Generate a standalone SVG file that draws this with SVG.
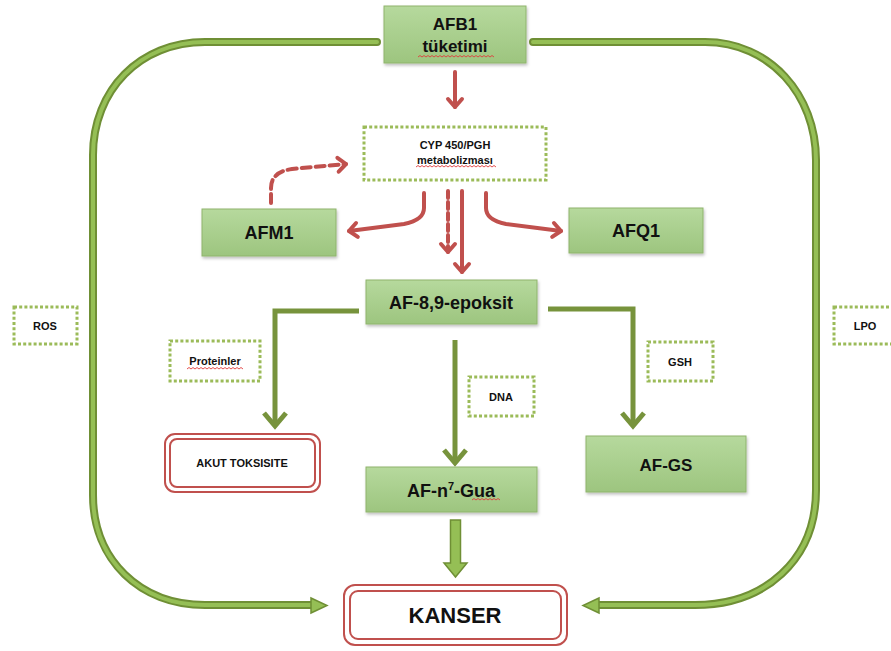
<svg xmlns="http://www.w3.org/2000/svg" width="891" height="651" viewBox="0 0 891 651">
<style>
.box{fill:url(#gg);stroke:#8fb46d;stroke-width:1;filter:url(#sh)}
.dot{fill:#fff;stroke:#9bbb59;stroke-width:3;stroke-dasharray:3 2.2}
.t{font-family:"Liberation Sans",Arial,sans-serif;font-weight:bold;fill:#111;text-anchor:middle}
.big{font-size:18px}
.sm{font-size:11px}
.red{fill:none;stroke:#c0504d;stroke-width:4;stroke-linecap:round;stroke-linejoin:round}
.gl{fill:none;stroke:#77933c;stroke-width:5;stroke-linejoin:miter}
.loopo{fill:none;stroke:#6f8f35;stroke-width:8;stroke-linecap:round}
.loopi{fill:none;stroke:#95bf55;stroke-width:4;stroke-linecap:round}
.blk{fill:#95bf55;stroke:#6f8f35;stroke-width:1.5;stroke-linejoin:miter}
.ro{fill:#fff;stroke:#c0504d;stroke-width:2}
.ri{fill:none;stroke:#c0504d;stroke-width:2}
.sq{fill:none;stroke:#e03c3c;stroke-width:0.9}
</style>
<defs>
<linearGradient id="gg" x1="0" y1="0" x2="0" y2="1">
<stop offset="0" stop-color="#b6d99d"/>
<stop offset="1" stop-color="#9dc57f"/>
</linearGradient>
<filter id="sh" x="-10%" y="-10%" width="125%" height="140%">
<feDropShadow dx="1" dy="2" stdDeviation="1.5" flood-color="#000" flood-opacity="0.25"/>
</filter>
<marker id="rh" markerUnits="userSpaceOnUse" markerWidth="24" markerHeight="24" refX="0" refY="0" viewBox="-12 -12 24 24" orient="auto" overflow="visible">
<path d="M-8,-7 L0,0 L-8,7" fill="none" stroke="#c0504d" stroke-width="4" stroke-linecap="round" stroke-linejoin="round" stroke-dasharray="none"/>
</marker>
<marker id="gh" markerUnits="userSpaceOnUse" markerWidth="30" markerHeight="30" refX="0" refY="0" viewBox="-15 -15 30 30" orient="auto" overflow="visible">
<path d="M-13,-11 L0,0 L-13,11" fill="none" stroke="#77933c" stroke-width="5" stroke-linejoin="miter"/>
</marker>
</defs>
<rect width="891" height="651" fill="#fff"/>

<g id="connectors">
<!-- big loops -->
<path class="loopo" d="M377,42 L205,42 C140,42 93,90 93,155 L93,495 C93,560 140,605 205,605 L312,605"/>
<path class="loopi" d="M377,42 L205,42 C140,42 93,90 93,155 L93,495 C93,560 140,605 205,605 L312,605"/>
<polygon class="blk" points="311,598 327,605.5 311,613"/>
<path class="loopo" d="M533,42 L705,42 C770,42 816,95 816,160 L816,490 C816,560 765,605 695,605 L598,605"/>
<path class="loopi" d="M533,42 L705,42 C770,42 816,95 816,160 L816,490 C816,560 765,605 695,605 L598,605"/>
<polygon class="blk" points="599,598 583,605.5 599,613"/>
<!-- red arrows -->
<path class="red" d="M455,72 L455,107" marker-end="url(#rh)"/>
<path class="red" d="M424,193 L424,208 Q424,220 404,224 L349,231" marker-end="url(#rh)"/>
<path class="red" d="M486,193 L486,208 Q486,220 506,224 L561,231" marker-end="url(#rh)"/>
<path class="red" d="M448,191 L448,252" stroke-dasharray="7 4" marker-end="url(#rh)"/>
<path class="red" d="M462,191 L462,272" marker-end="url(#rh)"/>
<path class="red" d="M271,203 L271,188 Q271,172 292,169 L346,164" stroke-dasharray="9 5" marker-end="url(#rh)"/>
<!-- green branch arrows -->
<path class="gl" d="M359,311 L275,311 L275,426" marker-end="url(#gh)"/>
<path class="gl" d="M548,309 L633,309 L633,426" marker-end="url(#gh)"/>
<path class="gl" d="M455,340 L455,463" marker-end="url(#gh)"/>
<polygon class="blk" points="450.5,520 460.5,520 460.5,563 467,563 455.5,577 444,563 450.5,563"/>
</g>

<g id="afb1">
<rect class="box" x="384" y="6" width="142" height="57"/>
<text class="t" x="455" y="30" font-size="17">AFB1</text>
<text class="t" x="455" y="52" font-size="17">tüketimi</text>
</g>
<g id="cyp">
<rect class="dot" x="364" y="127" width="182" height="53"/>
<text class="t sm" x="455" y="149">CYP 450/PGH</text>
<text class="t sm" x="455" y="164">metabolizması</text>
</g>
<g id="afm1">
<rect class="box" x="202" y="209" width="134" height="47"/>
<text class="t big" x="269" y="239">AFM1</text>
</g>
<g id="afq1">
<rect class="box" x="569" y="208" width="134" height="45"/>
<text class="t big" x="636" y="237">AFQ1</text>
</g>
<g id="epoksit">
<rect class="box" x="366" y="280" width="171" height="44"/>
<text class="t big" x="451" y="309">AF-8,9-epoksit</text>
</g>
<g id="ros">
<rect class="dot" x="14" y="307" width="63" height="37"/>
<text class="t sm" x="45" y="330">ROS</text>
</g>
<g id="lpo">
<rect class="dot" x="834" y="307" width="63" height="37"/>
<text class="t sm" x="865" y="330">LPO</text>
</g>
<g id="proteinler">
<rect class="dot" x="170" y="341" width="90" height="40"/>
<text class="t sm" x="215" y="365">Proteinler</text>
</g>
<g id="gsh">
<rect class="dot" x="648" y="342" width="65" height="39"/>
<text class="t sm" x="680" y="366">GSH</text>
</g>
<g id="dna">
<rect class="dot" x="469" y="377" width="65" height="39"/>
<text class="t sm" x="501" y="401">DNA</text>
</g>
<g id="akut">
<rect class="ro" x="165" y="434" width="155" height="58" rx="10"/>
<rect class="ri" x="170" y="439" width="145" height="48" rx="7"/>
<text class="t sm" x="242" y="467">AKUT TOKSISITE</text>
</g>
<g id="afgs">
<rect class="box" x="586" y="436" width="160" height="56"/>
<text class="t" x="666" y="471" font-size="17">AF-GS</text>
</g>
<g id="afgua">
<rect class="box" x="366" y="467" width="171" height="45"/>
<text class="t big" x="451" y="497">AF-n<tspan font-size="11" dy="-7">7</tspan><tspan dy="7">-Gua</tspan></text>
</g>
<g id="kanser">
<rect class="ro" x="344" y="585" width="223" height="60" rx="11"/>
<rect class="ri" x="350" y="591" width="211" height="48" rx="8"/>
<text class="t" x="455" y="623" font-size="22">KANSER</text>
</g>

<g id="spellcheck">
<path class="sq" d="M418,57 l2,-1.5 l2,1.5 l2,-1.5 l2,1.5 l2,-1.5 l2,1.5 l2,-1.5 l2,1.5 l2,-1.5 l2,1.5 l2,-1.5 l2,1.5 l2,-1.5 l2,1.5 l2,-1.5 l2,1.5 l2,-1.5 l2,1.5 l2,-1.5 l2,1.5 l2,-1.5 l2,1.5 l2,-1.5 l2,1.5 l2,-1.5 l2,1.5 l2,-1.5 l2,1.5 l2,-1.5 l2,1.5 l2,-1.5 l2,1.5 l2,-1.5 l2,1.5 l2,-1.5 l2,1.5 l2,-1.5 l2,1.5"/>
<path class="sq" d="M416,167 l2,-1.5 l2,1.5 l2,-1.5 l2,1.5 l2,-1.5 l2,1.5 l2,-1.5 l2,1.5 l2,-1.5 l2,1.5 l2,-1.5 l2,1.5 l2,-1.5 l2,1.5 l2,-1.5 l2,1.5 l2,-1.5 l2,1.5 l2,-1.5 l2,1.5 l2,-1.5 l2,1.5 l2,-1.5 l2,1.5 l2,-1.5 l2,1.5 l2,-1.5 l2,1.5 l2,-1.5 l2,1.5 l2,-1.5 l2,1.5 l2,-1.5 l2,1.5 l2,-1.5 l2,1.5 l2,-1.5 l2,1.5 l2,-1.5 l2,1.5"/>
<path class="sq" d="M187,369 l2,-1.5 l2,1.5 l2,-1.5 l2,1.5 l2,-1.5 l2,1.5 l2,-1.5 l2,1.5 l2,-1.5 l2,1.5 l2,-1.5 l2,1.5 l2,-1.5 l2,1.5 l2,-1.5 l2,1.5 l2,-1.5 l2,1.5 l2,-1.5 l2,1.5 l2,-1.5 l2,1.5 l2,-1.5 l2,1.5 l2,-1.5 l2,1.5 l2,-1.5 l2,1.5"/>
<path class="sq" d="M472,500 l2,-1.5 l2,1.5 l2,-1.5 l2,1.5 l2,-1.5 l2,1.5 l2,-1.5 l2,1.5 l2,-1.5 l2,1.5 l2,-1.5 l2,1.5 l2,-1.5 l2,1.5"/>
</g>
</svg>
